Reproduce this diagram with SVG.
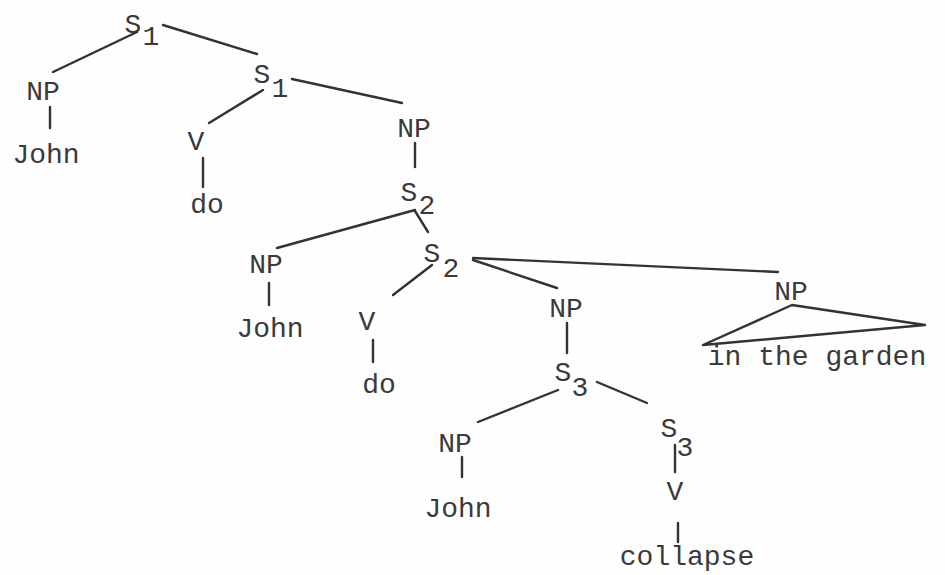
<svg xmlns="http://www.w3.org/2000/svg" width="945" height="575" viewBox="0 0 945 575">
  <style>
    text { font-family: "Liberation Mono", "Courier New", monospace; font-size: 28px; fill: #3a3a3a; text-anchor: middle; }
    .edge { stroke: #333; stroke-width: 2.4; stroke-linecap: round; fill: none; }
  </style>
  <rect width="945" height="575" fill="#fefefe"/>

  <!-- tree edges -->
  <g id="connectors">
    <line class="edge" x1="53" y1="72" x2="137" y2="32"/>
    <line class="edge" x1="163" y1="25" x2="257" y2="54"/>
    <line class="edge" x1="50" y1="107" x2="50" y2="128"/>
    <line class="edge" x1="209" y1="123" x2="263" y2="90"/>
    <line class="edge" x1="292" y1="79" x2="402" y2="103"/>
    <line class="edge" x1="203" y1="158" x2="203" y2="187"/>
    <line class="edge" x1="415" y1="143" x2="415" y2="167"/>
    <line class="edge" x1="277" y1="248" x2="415" y2="210"/>
    <line class="edge" x1="415" y1="211" x2="428" y2="232"/>
    <line class="edge" x1="269" y1="283" x2="269" y2="305"/>
    <line class="edge" x1="393" y1="295" x2="432" y2="265"/>
    <line class="edge" x1="473" y1="260" x2="557" y2="288"/>
    <line class="edge" x1="473" y1="258" x2="778" y2="272"/>
    <line class="edge" x1="373" y1="340" x2="373" y2="362"/>
    <line class="edge" x1="567" y1="323" x2="567" y2="353"/>
    <line class="edge" x1="478" y1="422" x2="558" y2="390"/>
    <line class="edge" x1="597" y1="382" x2="647" y2="403"/>
    <line class="edge" x1="462" y1="457" x2="462" y2="477"/>
    <line class="edge" x1="675" y1="445" x2="675" y2="472"/>
    <line class="edge" x1="678" y1="523" x2="678" y2="542"/>
    <polygon class="edge" points="792,305 703,345 925,325" stroke-linejoin="round"/>
  </g>

  <!-- nodes -->
  <g id="s1-top"><text x="133" y="33">S</text><text x="151" y="45">1</text></g>
  <g id="np-john-1"><text x="43" y="100">NP</text></g>
  <g id="john-1"><text x="46" y="163">John</text></g>
  <g id="s1-inner"><text x="262" y="83">S</text><text x="280" y="97">1</text></g>
  <g id="v-1"><text x="196" y="150">V</text></g>
  <g id="do-1"><text x="207" y="213">do</text></g>
  <g id="np-s2"><text x="414" y="137">NP</text></g>
  <g id="s2-top"><text x="409" y="201">S</text><text x="427" y="214">2</text></g>
  <g id="np-john-2"><text x="266" y="273">NP</text></g>
  <g id="john-2"><text x="270" y="337">John</text></g>
  <g id="s2-inner"><text x="432" y="262">S</text><text x="451" y="277">2</text></g>
  <g id="v-2"><text x="367" y="330">V</text></g>
  <g id="do-2"><text x="379" y="393">do</text></g>
  <g id="np-s3"><text x="566" y="317">NP</text></g>
  <g id="s3-top"><text x="563" y="381">S</text><text x="580" y="396">3</text></g>
  <g id="np-garden"><text x="791" y="300">NP</text></g>
  <g id="garden"><text x="817" y="365">in the garden</text></g>
  <g id="np-john-3"><text x="455" y="452">NP</text></g>
  <g id="john-3"><text x="458" y="517">John</text></g>
  <g id="s3-inner"><text x="669" y="437">S</text><text x="685" y="456">3</text></g>
  <g id="v-3"><text x="675" y="500">V</text></g>
  <g id="collapse"><text x="687" y="565">collapse</text></g>
</svg>
